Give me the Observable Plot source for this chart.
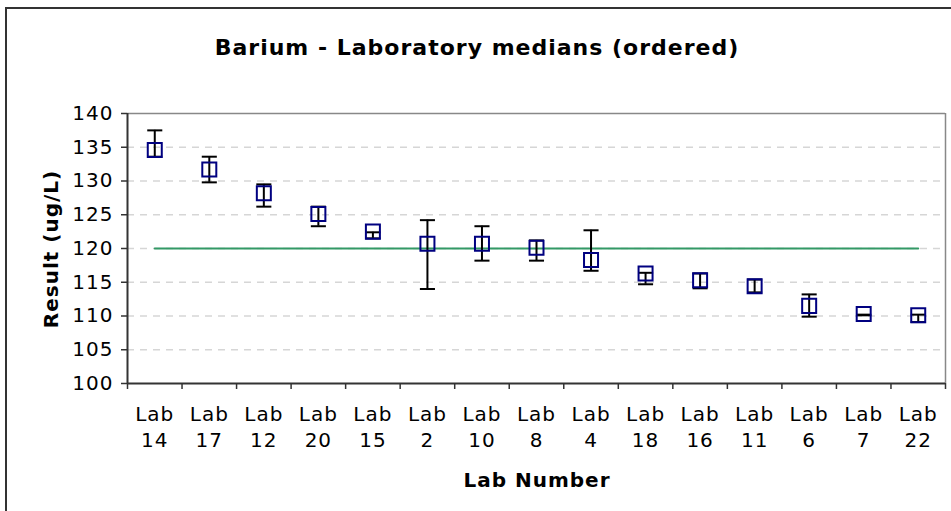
<!DOCTYPE html>
<html>
<head>
<meta charset="utf-8">
<script src="https://cdn.jsdelivr.net/npm/d3@7"></script>
<script src="https://cdn.jsdelivr.net/npm/@observablehq/plot@0.6"></script>
<style>
  html, body { margin: 0; padding: 0; background: #fff; }
  #wrap { position: relative; width: 951px; height: 511px; overflow: hidden; font-family: "DejaVu Sans", Verdana, sans-serif; }
  #border { position: absolute; left: 5px; top: 7px; width: 1000px; height: 600px; border-left: 2px solid #333; border-top: 2px solid #333; }
  .lbl { position: absolute; font-weight: bold; color: #000; white-space: nowrap; letter-spacing: 1px; }
  #title { left: 477px; top: 47px; transform: translate(-50%, -50%); font-size: 22px; }
  #xtitle { left: 537px; top: 480px; transform: translate(-50%, -50%); font-size: 20px; }
  #ytitle { left: 51px; top: 249px; transform: translate(-50%, -50%) rotate(-90deg); font-size: 20px; }
  svg { position: absolute; left: 0; top: 0; }
</style>
</head>
<body>
<div id="wrap">
  <div id="border"></div>
  <div class="lbl" id="title">Barium - Laboratory medians (ordered)</div>
  <div class="lbl" id="ytitle">Result (ug/L)</div>
  <div class="lbl" id="xtitle">Lab Number</div>
</div>
<script>
const labs    = ["14","17","12","20","15","2","10","8","4","18","16","11","6","7","22"];
const medians = [134.6,131.7,128.2,125.1,122.5,120.7,120.7,120.1,118.3,116.3,115.3,114.4,111.5,110.3,110.1];
const highs   = [137.5,133.6,129.5,126.2,122.4,124.2,123.3,121.2,122.7,116.4,116.3,115.4,113.2,110.2,110.2];
const lows    = [133.6,129.8,126.2,123.3,121.5,114.0,118.2,118.2,116.7,114.7,114.1,113.5,109.9,110.1,109.1];
const refValue = 120;
const yTicks = [100,105,110,115,120,125,130,135,140];
const gridTicks = [105,110,115,120,125,130,135];

const data = labs.map((lab, i) => ({
  lab, pos: i + 0.5, median: medians[i], high: highs[i], low: lows[i], ref: refValue
}));
const bounds = d3.range(labs.length + 1);

const capSymbol = {
  draw(ctx, size) {
    const w = Math.sqrt(size) / 2;
    ctx.moveTo(-w, 0);
    ctx.lineTo(w, 0);
  }
};

const font = "DejaVu Sans, Verdana, sans-serif";

const chart = Plot.plot({
  width: 951,
  height: 511,
  marginLeft: 127,
  marginRight: 6,
  marginTop: 113,
  marginBottom: 128,
  style: { fontFamily: font, background: "transparent", overflow: "visible", letterSpacing: "1px" },
  x: { type: "linear", domain: [0, labs.length], axis: null },
  y: { domain: [100, 140], axis: null },
  marks: [
    Plot.ruleY(gridTicks, { stroke: "#d6d6d6", strokeWidth: 1.5, strokeDasharray: "7,6" }),
    Plot.ruleY([140], { stroke: "#888", strokeWidth: 1.5 }),
    Plot.ruleX([labs.length], { stroke: "#888", strokeWidth: 1.5 }),
    Plot.axisY({ ticks: yTicks, label: null, tickSize: 6, tickPadding: 8, fontSize: 20, stroke: "#333", strokeWidth: 1.5, fill: "#000", tickFormat: d => String(d) }),
    Plot.axisX({ ticks: bounds, label: null, tickSize: 6, tickFormat: () => "", stroke: "#333", strokeWidth: 1.5 }),
    Plot.text(data, { x: "pos", y: () => 100, text: d => "Lab\n" + d.lab, lineAnchor: "top", dy: 19, fontSize: 20, lineHeight: 1.3, fill: "#000" }),
    Plot.ruleX([0], { stroke: "#333", strokeWidth: 2 }),
    Plot.ruleY([100], { stroke: "#333", strokeWidth: 2 }),
    Plot.line(data, { x: "pos", y: "ref", stroke: "#339966", strokeWidth: 2 }),
    Plot.ruleX(data, { x: "pos", y1: "low", y2: "high", stroke: "#000", strokeWidth: 2 }),
    Plot.dot(data, { x: "pos", y: "high", symbol: capSymbol, r: 8.5, stroke: "#000", strokeWidth: 2, fill: "none" }),
    Plot.dot(data, { x: "pos", y: "low", symbol: capSymbol, r: 8.5, stroke: "#000", strokeWidth: 2, fill: "none" }),
    Plot.dot(data, { x: "pos", y: "median", symbol: "square", r: 7.9, stroke: "#000080", strokeWidth: 2, fill: "none" })
  ]
});
document.getElementById("wrap").appendChild(chart);
</script>
</body>
</html>
